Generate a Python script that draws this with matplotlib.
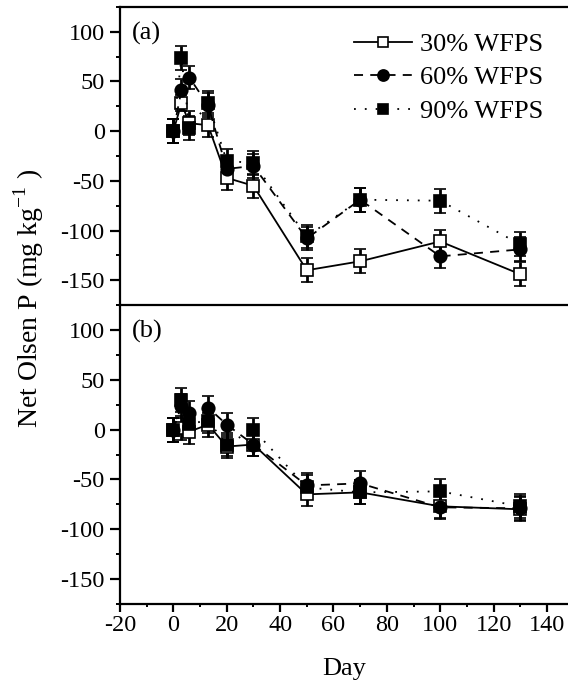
import numpy as np
import matplotlib
matplotlib.use("Agg")
import matplotlib.pyplot as plt
from matplotlib.ticker import MultipleLocator
from matplotlib.lines import Line2D

plt.rcParams['font.family'] = ['Liberation Serif', 'DejaVu Serif']
plt.rcParams['mathtext.fontset'] = 'custom'
plt.rcParams['mathtext.rm'] = 'Liberation Serif'
plt.rcParams['axes.unicode_minus'] = False

# ---- data ----
days = [0, 3, 6, 13, 20, 30, 50, 70, 100, 130]
labels = ["30% WFPS", "60% WFPS", "90% WFPS"]

# panel (a)
a_30 = [0, 28, 8, 6, -47, -55, -140, -131, -111, -144]
a_60 = [0, 41, 54, 26, -38, -35, -108, -69, -126, -119]
a_90 = [0, 74, 3, 28, -30, -32, -106, -69, -70, -114]
a_err30 = [12, 8, 12, 12, 12, 12, 12, 12, 12, 12]
a_err60 = [12, 12, 12, 12, 12, 12, 12, 12, 12, 12]
a_err90 = [12, 12, 12, 12, 12, 12, 12, 12, 12, 12]

# panel (b)
b_30 = [0, 2, -2, 5, -17, -15, -65, -63, -77, -80]
b_60 = [0, 24, 17, 22, 5, -15, -56, -54, -78, -79]
b_90 = [0, 30, 6, 9, -15, 0, -58, -63, -62, -77]
b_err30 = [12, 12, 12, 12, 12, 12, 12, 12, 12, 12]
b_err60 = [12, 12, 12, 12, 12, 12, 12, 12, 12, 12]
b_err90 = [12, 12, 12, 12, 12, 12, 12, 12, 12, 12]

styles = [
    dict(ls='-', marker='s', mfc='white', ms=8),
    dict(ls=(0, (5, 4)), marker='o', mfc='black', ms=9),
    dict(ls=(0, (1, 5)), marker='s', mfc='black', ms=8),
]

fig = plt.figure(figsize=(5.68, 6.83), dpi=100)
ax_a = fig.add_axes([0.2113, 0.5534, 0.7887, 0.4364])
ax_b = fig.add_axes([0.2113, 0.1157, 0.7887, 0.4377])

panels = [
    (ax_a, [a_30, a_60, a_90], [a_err30, a_err60, a_err90], "(a)"),
    (ax_b, [b_30, b_60, b_90], [b_err30, b_err60, b_err90], "(b)"),
]

for ax, series, errs, tag in panels:
    for vals, err, st in zip(series, errs, styles):
        ax.errorbar(days, vals, yerr=err, color='black', mec='black',
                    lw=1.3, elinewidth=2, capsize=4, capthick=2,
                    linestyle=st['ls'], marker=st['marker'], mfc=st['mfc'],
                    ms=st['ms'], mew=1.2)
    ax.set_xlim(-20, 147.9)
    ax.set_ylim(-175, 125)
    ax.yaxis.set_major_locator(MultipleLocator(50))
    ax.yaxis.set_minor_locator(MultipleLocator(25))
    ax.xaxis.set_major_locator(MultipleLocator(20))
    ax.xaxis.set_minor_locator(MultipleLocator(10))
    ax.spines['right'].set_visible(False)
    for s in ['left', 'top', 'bottom']:
        ax.spines[s].set_linewidth(1.6)
    ax.tick_params(axis='y', which='major', direction='out', length=7, width=1.6,
                   labelsize=17.5, pad=4)
    ax.tick_params(axis='y', which='minor', direction='out', length=3, width=1.4)
    ax.tick_params(axis='x', which='major', direction='out', length=6, width=1.6,
                   labelsize=17.5, pad=2)
    ax.tick_params(axis='x', which='minor', direction='out', length=2.5, width=1.4)
    ax.text(0.027, 0.91, tag, transform=ax.transAxes, fontsize=19,
            ha='left', va='center')

ax_a.tick_params(axis='x', which='both', bottom=False, labelbottom=False)
ax_a.spines['bottom'].set_visible(False)

handles = [Line2D([], [], color='black', lw=1.3, linestyle=st['ls'],
                  marker=st['marker'], mfc=st['mfc'], mec='black',
                  ms=st['ms'] - 1, mew=1.2) for st in styles]
ax_a.legend(handles, labels, loc='upper right', bbox_to_anchor=(0.968, 0.95),
            frameon=False, fontsize=19, handlelength=2.2, handletextpad=0.3,
            labelspacing=0.38, borderaxespad=0.0)

ax_b.set_xlabel("Day", fontsize=19, labelpad=16)
fig.text(0.05, 0.5637, r"Net Olsen P (mg kg$^{\mathregular{-1}}$ )", rotation=90,
         ha='center', va='center', fontsize=20)

fig.savefig("out.png", dpi=100)
